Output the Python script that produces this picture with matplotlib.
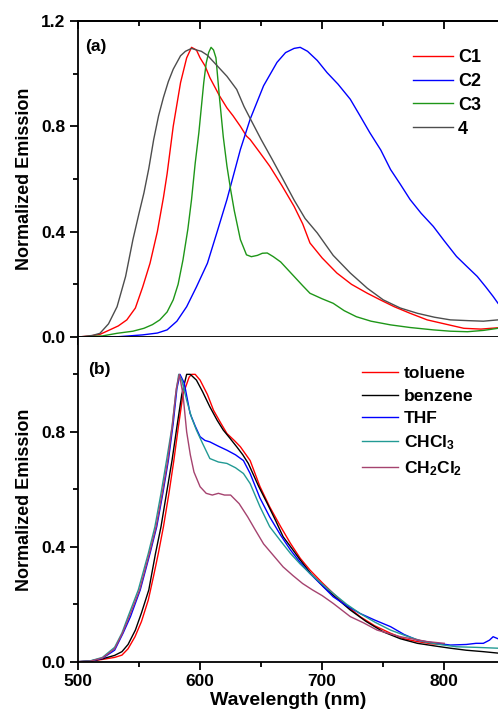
import matplotlib
matplotlib.use("Agg")
import matplotlib.pyplot as plt
from matplotlib.ticker import MultipleLocator

plt.rcParams['font.family'] = ['Liberation Sans', 'DejaVu Sans']
plt.rcParams['font.weight'] = 'bold'
plt.rcParams['mathtext.fontset'] = 'custom'
plt.rcParams['mathtext.bf'] = 'Liberation Sans:bold'
plt.rcParams['mathtext.rm'] = 'Liberation Sans:bold'
plt.rcParams['mathtext.default'] = 'bf'

#==================================
# panel (a) data

c1_nm = [500, 510, 518, 526, 533, 540, 547, 553, 559, 565, 570, 573, 578, 584, 589, 593, 597,
         600, 604, 608, 612, 616, 622, 627, 633, 638, 641, 649, 657, 667, 677, 684, 690,
         700, 712, 724, 737, 748, 759, 772, 786, 800, 816, 830, 844]
c1_val = [0.0, 0.004, 0.01, 0.027, 0.042, 0.065, 0.11, 0.19, 0.28, 0.40, 0.53, 0.62, 0.80, 0.966, 1.06, 1.10, 1.09,
          1.06, 1.03, 0.985, 0.95, 0.915, 0.87, 0.84, 0.80, 0.763, 0.75, 0.70, 0.649, 0.575, 0.496, 0.43, 0.357,
          0.30, 0.243, 0.20, 0.166, 0.14, 0.115, 0.09, 0.065, 0.05, 0.033, 0.03, 0.035]

c2_nm = [500, 530, 553, 565, 573, 581, 589, 597, 606, 614, 622, 633, 641, 652, 663, 670, 677,
         682, 688, 696, 704, 713, 723, 731, 739, 748, 756, 764, 772, 781, 791, 800, 810, 818,
         827, 834, 840, 844]
c2_val = [0.0, 0.0, 0.008, 0.015, 0.027, 0.06, 0.115, 0.19, 0.28, 0.40, 0.522, 0.712, 0.827, 0.954, 1.043, 1.08, 1.096,
          1.10, 1.085, 1.05, 1.004, 0.96, 0.903, 0.84, 0.776, 0.71, 0.636, 0.58, 0.522, 0.47, 0.42, 0.365, 0.306, 0.27,
          0.23, 0.19, 0.154, 0.128]

c3_nm = [500, 520, 532, 545, 554, 561, 567, 573, 578, 582, 586, 590, 593, 596, 599, 603, 605,
         607, 609, 611, 613, 616, 619, 622, 625, 628, 633, 638, 642, 647, 651, 655, 660, 666,
         671, 677, 684, 690, 700, 709, 718, 728, 740, 756, 772, 791, 805, 819, 832, 844]
c3_val = [0.0, 0.004, 0.014, 0.022, 0.033, 0.047, 0.065, 0.095, 0.141, 0.20, 0.293, 0.41, 0.522, 0.66, 0.776, 0.966, 1.04,
          1.08, 1.10, 1.09, 1.06, 0.903, 0.76, 0.649, 0.56, 0.48, 0.37, 0.312, 0.305, 0.31, 0.318, 0.319, 0.305, 0.285,
          0.26, 0.23, 0.195, 0.166, 0.145, 0.128, 0.10, 0.077, 0.06, 0.046, 0.036, 0.027, 0.022, 0.02, 0.025, 0.033]

c4_nm = [500, 505, 512, 518, 525, 532, 539, 545, 550, 554, 558, 562, 566, 570, 574, 578, 584,
         588, 593, 597, 601, 606, 612, 617, 622, 630, 636, 641, 650, 659, 668, 677, 686, 696,
         709, 723, 737, 750, 764, 778, 792, 805, 820, 832, 844]
c4_val = [0.0, 0.002, 0.006, 0.014, 0.05, 0.115, 0.23, 0.37, 0.47, 0.547, 0.64, 0.75, 0.84, 0.91, 0.97, 1.017, 1.068,
          1.085, 1.096, 1.09, 1.085, 1.07, 1.04, 1.015, 0.99, 0.94, 0.875, 0.83, 0.75, 0.675, 0.598, 0.52, 0.45, 0.395,
          0.31, 0.243, 0.185, 0.141, 0.11, 0.09, 0.075, 0.065, 0.062, 0.06, 0.065]

# panel (b) data

tol_nm = [500, 510, 520, 530, 536, 541, 546.7, 552, 557.6, 562, 565.8, 570, 574.5, 578.5, 582.2, 586, 591, 593,
          596, 600, 606, 611, 617, 622, 628, 633, 641, 649, 657, 666, 674, 682, 690, 700, 709, 720, 731, 743,
          756, 767, 778, 790, 800]
tol_val = [0.0, 0.002, 0.008, 0.015, 0.023, 0.045, 0.087, 0.14, 0.215, 0.30, 0.377, 0.47, 0.586, 0.70, 0.817, 0.93, 0.99, 1.0,
           1.0, 0.98, 0.93, 0.875, 0.83, 0.794, 0.77, 0.748, 0.70, 0.61, 0.539, 0.47, 0.412, 0.36, 0.319, 0.275, 0.238, 0.195, 0.157, 0.125,
           0.099, 0.08, 0.07, 0.062, 0.06]

ben_nm = [500, 510, 520, 530, 536, 541, 547, 552, 558, 563.5, 568, 572.5, 577, 581, 585, 589, 592, 597,
          602, 608, 614, 619, 624, 630, 635, 639.5, 648, 655, 662, 668, 675, 682, 691, 701, 712, 723,
          736, 750, 764, 778, 792, 805, 818, 832, 844]
ben_val = [0.0, 0.002, 0.01, 0.022, 0.035, 0.06, 0.11, 0.17, 0.25, 0.377, 0.47, 0.586, 0.70, 0.817, 0.93, 1.0, 1.0, 0.98,
           0.94, 0.887, 0.84, 0.806, 0.78, 0.748, 0.72, 0.69, 0.61, 0.551, 0.49, 0.435, 0.395, 0.354, 0.305, 0.261, 0.22, 0.18,
           0.14, 0.104, 0.08, 0.064, 0.055, 0.047, 0.04, 0.035, 0.03]

thf_nm = [500, 510, 520, 530, 537, 543, 551, 559, 564.5, 569.5, 574, 578, 581, 583.5, 587, 591.8,
          596, 600, 604, 608, 615, 622, 629, 635.5, 641, 649, 657, 666, 674, 682, 690, 700,
          709, 720, 731, 743, 756, 767, 778, 792, 805, 818, 826, 832, 837, 840, 844]
thf_val = [0.0, 0.002, 0.012, 0.04, 0.1, 0.157, 0.25, 0.377, 0.47, 0.586, 0.70, 0.83, 0.95, 1.0, 0.97, 0.864,
           0.82, 0.783, 0.77, 0.765, 0.75, 0.736, 0.72, 0.70, 0.655, 0.57, 0.504, 0.44, 0.389, 0.345, 0.307, 0.265,
           0.226, 0.195, 0.168, 0.145, 0.122, 0.095, 0.075, 0.065, 0.058, 0.06, 0.064, 0.064, 0.075, 0.087, 0.08]

chc_nm = [500, 510, 520, 530, 536, 541, 549.4, 557.6, 563, 568, 572.5, 577, 580, 582.5, 585, 589,
          593, 597, 602, 608, 615, 622, 629, 635.5, 641, 649, 657, 666, 674, 682, 690, 700,
          709, 720, 731, 743, 756, 770, 783, 796, 810, 826, 844]
chc_val = [0.0, 0.003, 0.015, 0.05, 0.1, 0.157, 0.25, 0.377, 0.47, 0.586, 0.70, 0.817, 0.93, 1.0, 0.98, 0.91,
           0.85, 0.806, 0.76, 0.707, 0.695, 0.69, 0.675, 0.655, 0.62, 0.54, 0.47, 0.42, 0.377, 0.34, 0.307, 0.27,
           0.238, 0.2, 0.168, 0.138, 0.11, 0.088, 0.07, 0.06, 0.052, 0.05, 0.047]

dcm_nm = [500, 510, 520, 530, 536.5, 542, 550.5, 558.5, 564, 569, 573.5, 577.5, 580.5, 583, 586, 589,
          592, 595, 600, 605, 610, 615, 620, 625, 632, 639, 645, 652, 660, 668, 676, 684,
          692, 700, 709, 723, 734, 745, 764, 786, 800]
dcm_val = [0.0, 0.002, 0.013, 0.045, 0.1, 0.157, 0.25, 0.377, 0.47, 0.586, 0.70, 0.83, 0.95, 1.0, 0.93, 0.80,
           0.72, 0.66, 0.609, 0.586, 0.58, 0.586, 0.58, 0.58, 0.55, 0.504, 0.46, 0.41, 0.37, 0.33, 0.30, 0.272,
           0.25, 0.23, 0.203, 0.157, 0.135, 0.11, 0.087, 0.07, 0.064]

#==================================

fig = plt.figure(figsize=(4.98, 7.17), dpi=100)
ax1 = fig.add_axes([0.1566, 0.530, 0.8434, 0.4407])
ax2 = fig.add_axes([0.1566, 0.0771, 0.8434, 0.4529])

lw = 1.0
ax1.plot(c1_nm, c1_val, color='#ff0000', lw=lw, label='C1')
ax1.plot(c2_nm, c2_val, color='#0000ff', lw=lw, label='C2')
ax1.plot(c3_nm, c3_val, color='#1e9618', lw=lw, label='C3')
ax1.plot(c4_nm, c4_val, color='#4d4d4d', lw=lw, label='4')

ax2.plot(tol_nm, tol_val, color='#ff0000', lw=lw, label='toluene')
ax2.plot(ben_nm, ben_val, color='#000000', lw=lw, label='benzene')
ax2.plot(thf_nm, thf_val, color='#0000ff', lw=lw, label='THF')
ax2.plot(chc_nm, chc_val, color='#229a94', lw=lw, label='CHCl$_3$')
ax2.plot(dcm_nm, dcm_val, color='#a5436f', lw=lw, label='CH$_2$Cl$_2$')

for ax in (ax1, ax2):
	ax.set_xlim(500, 844)
	ax.xaxis.set_major_locator(MultipleLocator(100))
	ax.xaxis.set_minor_locator(MultipleLocator(50))
	ax.yaxis.set_major_locator(MultipleLocator(0.4))
	ax.yaxis.set_minor_locator(MultipleLocator(0.2))
	ax.spines['right'].set_visible(False)
	for s in ax.spines.values():
		s.set_linewidth(1.3)
	ax.tick_params(which='both', direction='out', width=1.3, labelsize=12.5, pad=3)
	ax.tick_params(which='major', length=6)
	ax.tick_params(which='minor', length=3.5)
	ax.set_ylabel('Normalized Emission', fontsize=13, fontweight='bold', labelpad=6)
	for t in ax.get_xticklabels() + ax.get_yticklabels():
		t.set_fontweight('bold')

ax1.set_ylim(0, 1.2)
ax1.set_yticks([0.0, 0.4, 0.8, 1.2])
ax1.set_yticklabels(['0.0', '0.4', '0.8', '1.2'], fontweight='bold')
ax1.tick_params(axis='x', labelbottom=False)
top = ax1.secondary_xaxis('top')
top.xaxis.set_major_locator(MultipleLocator(100))
top.xaxis.set_minor_locator(MultipleLocator(50))
top.tick_params(which='both', direction='in', width=1.3, labeltop=False)
top.tick_params(which='major', length=6)
top.tick_params(which='minor', length=3.5)
top.spines['top'].set_linewidth(1.3)

ax2.set_ylim(0, 1.13)
ax2.set_yticks([0.0, 0.4, 0.8])
ax2.set_yticklabels(['0.0', '0.4', '0.8'], fontweight='bold')
ax2.spines['top'].set_visible(False)
ax2.set_xlabel('Wavelength (nm)', fontsize=14, fontweight='bold', labelpad=2)

ax1.text(506, 1.105, '(a)', fontsize=12.5, fontweight='bold', va='center')
ax2.text(508, 1.018, '(b)', fontsize=12.5, fontweight='bold', va='center')

ax1.legend(loc='upper left', bbox_to_anchor=(413/498, 1-49/717), bbox_transform=fig.transFigure,
           frameon=False, handlelength=2.2, handletextpad=0.3, labelspacing=0.38,
           borderpad=0, borderaxespad=0, prop={'weight': 'bold', 'size': 13})
ax2.legend(loc='upper left', bbox_to_anchor=(362/498, 1-366/717), bbox_transform=fig.transFigure,
           frameon=False, handlelength=2.1, handletextpad=0.3, labelspacing=0.42,
           borderpad=0, borderaxespad=0, prop={'weight': 'bold', 'size': 12.5})

plt.savefig('out.png', dpi=100)
